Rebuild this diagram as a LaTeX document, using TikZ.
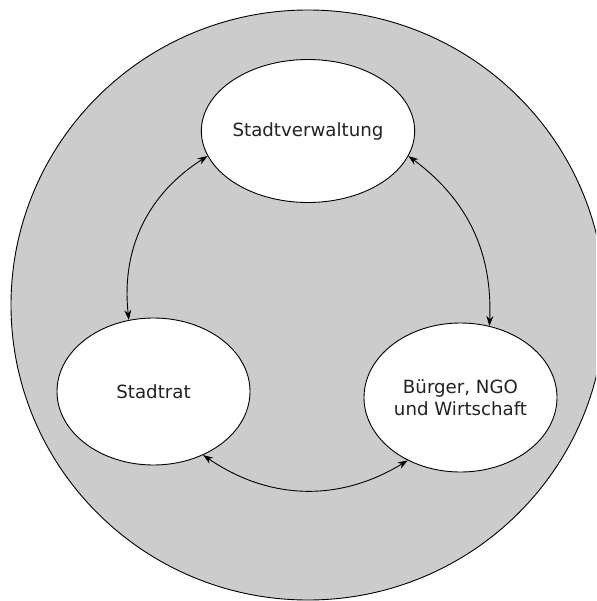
\documentclass[tikz,border=0pt]{standalone}
\usepackage{fontspec}
\setmainfont{DejaVu Sans}
\usetikzlibrary{shapes.geometric,arrows.meta}
\definecolor{bgrey}{HTML}{CCCCCC}
\definecolor{txt}{HTML}{222222}
\tikzset{
  actor/.style={ellipse, draw=black, line width=0.9pt, fill=white, inner sep=0pt,
    text=txt, font=\fontsize{18.2}{21.5}\selectfont, align=center},
  link/.style={line width=0.9pt, {Stealth[length=10pt,width=7pt]}-{Stealth[length=10pt,width=7pt]}}
}
\begin{document}
\begin{tikzpicture}[x=1pt,y=-1pt]
\useasboundingbox (0,0) rectangle (596,601);
\begin{scope}
\clip (0,0) rectangle (596,601);
\draw[fill=bgrey, line width=0.9pt] (308,305) ellipse [x radius=297, y radius=295];
\end{scope}
\node[actor, minimum width=191pt, minimum height=143pt] (sv) at (308,131) {Stadtverwaltung};
\node[actor, minimum width=193pt, minimum height=147pt] (sr) at (153.5,391.5) {Stadtrat};
\node[actor, minimum width=193pt, minimum height=149pt] (bg) at (460.5,397.5) {Bürger, NGO\\und Wirtschaft};
\draw[link] (sv.194) to[bend right=32] (sr.109);
\draw[link] (sv.346) to[bend left=28] (bg.68);
\draw[link] (sr.308) to[bend right=33] (bg.230);
\end{tikzpicture}
\end{document}
